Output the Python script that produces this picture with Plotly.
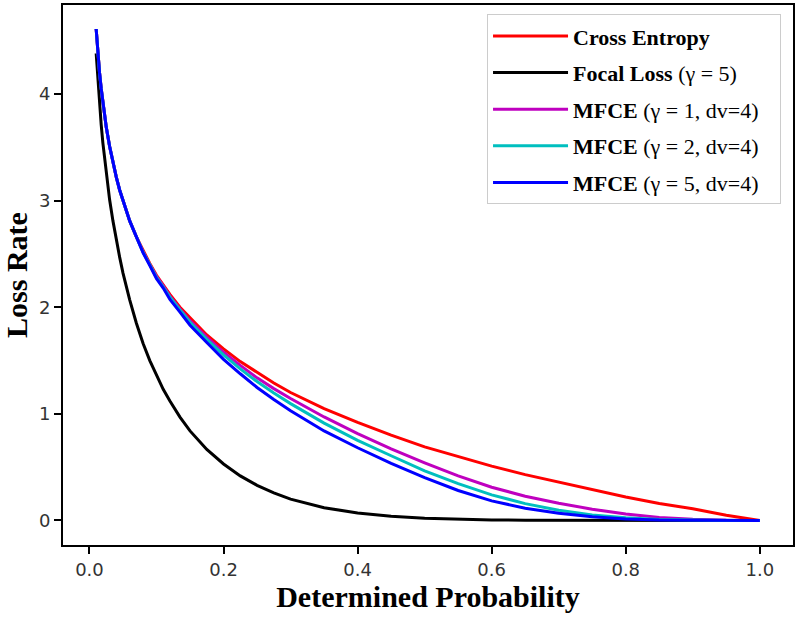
import plotly.graph_objects as go

# Determined probability (x) sample points
p = [0.01, 0.0125, 0.015, 0.0175, 0.02, 0.025, 0.03, 0.035, 0.04, 0.045, 0.05, 0.06,
     0.07, 0.08, 0.09, 0.10, 0.11, 0.12, 0.135, 0.15, 0.175, 0.20, 0.225, 0.25, 0.275,
     0.30, 0.35, 0.40, 0.45, 0.50, 0.55, 0.60, 0.65, 0.70, 0.75, 0.80, 0.85, 0.90,
     0.95, 1.00]

cross_entropy = [4.61, 4.38, 4.20, 4.05, 3.91, 3.69, 3.51, 3.35, 3.22, 3.10, 3.00, 2.81,
                 2.66, 2.53, 2.41, 2.30, 2.21, 2.12, 2.00, 1.90, 1.74, 1.61, 1.49, 1.39, 1.29,
                 1.20, 1.05, 0.92, 0.80, 0.69, 0.60, 0.51, 0.43, 0.36, 0.29, 0.22, 0.16, 0.11,
                 0.05, 0.00]

focal_loss = [4.38, 4.12, 3.89, 3.71, 3.54, 3.25, 3.01, 2.81, 2.62, 2.47, 2.32, 2.07,
              1.85, 1.66, 1.50, 1.36, 1.23, 1.12, 0.97, 0.84, 0.666, 0.53, 0.418, 0.33, 0.259,
              0.20, 0.12, 0.071, 0.040, 0.022, 0.011, 0.005, 0.002, 0.001, 0.0, 0.0, 0.0, 0.0,
              0.0, 0.0]

mfce_g1 = [4.61, 4.38, 4.20, 4.05, 3.91, 3.69, 3.51, 3.35, 3.22, 3.10, 3.00, 2.81,
           2.66, 2.52, 2.40, 2.29, 2.20, 2.105, 1.985, 1.874, 1.72, 1.578, 1.455, 1.338, 1.237,
           1.144, 0.971, 0.815, 0.671, 0.541, 0.419, 0.312, 0.228, 0.161, 0.106, 0.060, 0.029, 0.011,
           0.002, 0.0]

mfce_g2 = [4.61, 4.38, 4.20, 4.05, 3.91, 3.69, 3.51, 3.35, 3.22, 3.10, 3.00, 2.81,
           2.66, 2.515, 2.40, 2.28, 2.19, 2.095, 1.975, 1.859, 1.70, 1.553, 1.422, 1.303, 1.195,
           1.096, 0.913, 0.751, 0.607, 0.465, 0.345, 0.240, 0.158, 0.096, 0.052, 0.025, 0.010, 0.003,
           0.0, 0.0]

mfce_g5 = [4.61, 4.38, 4.20, 4.05, 3.91, 3.69, 3.51, 3.35, 3.22, 3.10, 3.00, 2.81,
           2.66, 2.51, 2.39, 2.268, 2.18, 2.073, 1.955, 1.831, 1.67, 1.512, 1.376, 1.247, 1.135,
           1.029, 0.840, 0.682, 0.535, 0.402, 0.281, 0.184, 0.115, 0.068, 0.035, 0.015, 0.005, 0.001,
           0.0, 0.0]

pad = "\u00a0" * 3
series = [
    ("<b>Cross Entropy</b>", cross_entropy, "#ff0000"),
    ("<b>Focal Loss</b> (γ = 5)", focal_loss, "#000000"),
    ("<b>MFCE</b> (γ = 1, dv=4)", mfce_g1, "#bf00bf"),
    ("<b>MFCE</b> (γ = 2, dv=4)", mfce_g2, "#00bfbf"),
    ("<b>MFCE</b> (γ = 5, dv=4)", mfce_g5, "#0000ff"),
]

fig = go.Figure()
for i, (name, vals, col) in enumerate(series):
    fig.add_trace(go.Scatter(
        x=p, y=vals, mode="lines", name=name + pad, legendgroup=str(i),
        line=dict(color=col, width=3),
    ))

axis_common = dict(
    showgrid=False, zeroline=False, showline=True, linecolor="black", linewidth=2,
    mirror=True, ticks="outside", ticklen=7, tickwidth=1.5, tickcolor="black",
    tickfont=dict(family="DejaVu Sans", size=18, color="#333333"),
)

fig.update_layout(
    width=800, height=617,
    margin=dict(l=63, r=7, t=3, b=72),
    paper_bgcolor="white", plot_bgcolor="white",
    xaxis=dict(range=[-0.0395, 1.0495], tickvals=[0, 0.2, 0.4, 0.6, 0.8, 1.0],
               ticktext=["0.0", "0.2", "0.4", "0.6", "0.8", "1.0"],
               title=dict(text="<b>Determined Probability</b>",
                          font=dict(family="Liberation Serif", size=30, color="black"),
                          standoff=6),
               **axis_common),
    yaxis=dict(range=[-0.23, 4.835], tickvals=[0, 1, 2, 3, 4],
               title=dict(text="<b>Loss Rate</b>",
                          font=dict(family="Liberation Serif", size=30, color="black"),
                          standoff=4),
               **axis_common),
    legend=dict(x=0.9836, y=0.983, xanchor="right", yanchor="top",
                bgcolor="white", bordercolor="#cccccc", borderwidth=1,
                font=dict(family="Liberation Serif", size=22, color="black"),
                tracegroupgap=5, itemwidth=75),
    showlegend=True,
)

fig.write_html("out.html")
